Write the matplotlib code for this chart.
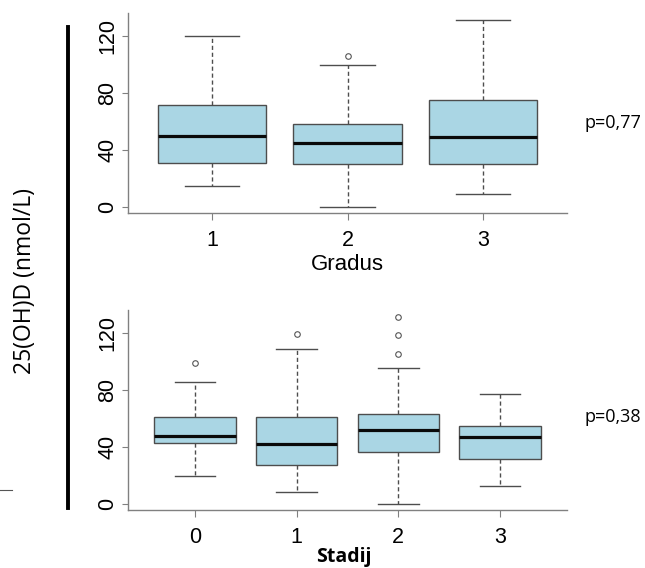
import matplotlib
matplotlib.use("Agg")
import matplotlib.pyplot as plt
from matplotlib.lines import Line2D

# ---- data ----
gradus_labels = ["1", "2", "3"]
gradus_whislo = [15, 0, 9]
gradus_q1 = [31, 30, 30]
gradus_med = [50, 45, 49]
gradus_q3 = [72, 58.5, 75]
gradus_whishi = [120, 100, 131.5]
gradus_fliers = [[], [106], []]

stadij_labels = ["0", "1", "2", "3"]
stadij_whislo = [19.5, 8.5, 0.5, 12.5]
stadij_q1 = [43, 27.5, 36.5, 31.5]
stadij_med = [48, 42.5, 52, 47.5]
stadij_q3 = [61, 61, 63.5, 55]
stadij_whishi = [86, 109, 95.5, 77.5]
stadij_fliers = [[99], [119.5], [105.5, 118.5, 131.5], []]

p_gradus = "p=0,77"
p_stadij = "p=0,38"
y_ticks = [0, 40, 80, 120]

W, H = 645, 568
fig = plt.figure(figsize=(W / 100, H / 100), dpi=100)

AX_C = "#808080"
EDGE = "#4d4d4d"


def px_axes(x0, y0, x1, y1):
    return fig.add_axes([x0 / W, 1 - y1 / H, (x1 - x0) / W, (y1 - y0) / H])


def draw(ax, labels, wlo, q1, med, q3, whi, fl, xpad):
    stats = []
    for i in range(len(labels)):
        stats.append(dict(whislo=wlo[i], q1=q1[i], med=med[i], q3=q3[i],
                          whishi=whi[i], fliers=fl[i], label=labels[i]))
    pos = list(range(1, len(labels) + 1))
    ax.bxp(stats, positions=pos, widths=0.8, capwidths=0.4, patch_artist=True,
           showfliers=True,
           boxprops=dict(facecolor="#aad6e4", edgecolor=EDGE, linewidth=1.0),
           whiskerprops=dict(color=EDGE, linewidth=1.0, linestyle=(0, (3, 2))),
           capprops=dict(color=EDGE, linewidth=1.0),
           medianprops=dict(color="#0a0a0a", linewidth=2.3),
           flierprops=dict(marker="o", markerfacecolor="none",
                           markeredgecolor="#555555", markersize=4,
                           markeredgewidth=0.8))
    n = len(labels)
    ax.set_xlim(0.5 - xpad, n + 0.5 + xpad)
    ax.set_ylim(-4, 136.2)
    ax.set_yticks(y_ticks)
    ax.set_yticklabels([str(t) for t in y_ticks], rotation=90, va="center",
                       family="Liberation Sans", fontsize=15.5)
    ax.set_xticks(pos)
    ax.set_xticklabels(labels, family="Liberation Sans", fontsize=15.5)
    for s in ["top", "right"]:
        ax.spines[s].set_visible(False)
    for s in ["left", "bottom"]:
        ax.spines[s].set_color(AX_C)
        ax.spines[s].set_linewidth(1.0)
    ax.tick_params(axis="y", length=4, width=0.8, color=AX_C, pad=3)
    ax.tick_params(axis="x", length=5, width=0.8, color=AX_C, pad=7)
    ax.set_facecolor("none")


ax1 = px_axes(128, 13, 567, 213)
draw(ax1, gradus_labels, gradus_whislo, gradus_q1, gradus_med, gradus_q3,
     gradus_whishi, gradus_fliers, 0.12)
ax2 = px_axes(128, 310, 567, 510)
draw(ax2, stadij_labels, stadij_whislo, stadij_q1, stadij_med, stadij_q3,
     stadij_whishi, stadij_fliers, 0.16)

# texts
fig.text(347 / W, 1 - 265 / H, "Gradus", ha="center", va="center",
         family="Liberation Sans", fontsize=16)
fig.text(344 / W, 1 - 557 / H, "Stadij", ha="center", va="center",
         family="Open Sans", fontweight="bold", fontsize=14)
fig.text(584 / W, 1 - 123 / H, p_gradus, ha="left", va="center",
         family="Open Sans", fontsize=13)
fig.text(584 / W, 1 - 417 / H, p_stadij, ha="left", va="center",
         family="Open Sans", fontsize=13)
fig.text(25 / W, 1 - 281 / H, "25(OH)D (nmol/L)", ha="center", va="center",
         rotation=90, family="Open Sans", fontsize=16.5)

# decorative lines
fig.add_artist(Line2D([68 / W, 68 / W], [1 - 27 / H, 1 - 508 / H],
                      transform=fig.transFigure, color="black", linewidth=2.8))
fig.add_artist(Line2D([0, 12 / W], [1 - 490 / H, 1 - 490 / H],
                      transform=fig.transFigure, color="#555555", linewidth=0.8))

fig.savefig("out.png", dpi=100, facecolor="white")
